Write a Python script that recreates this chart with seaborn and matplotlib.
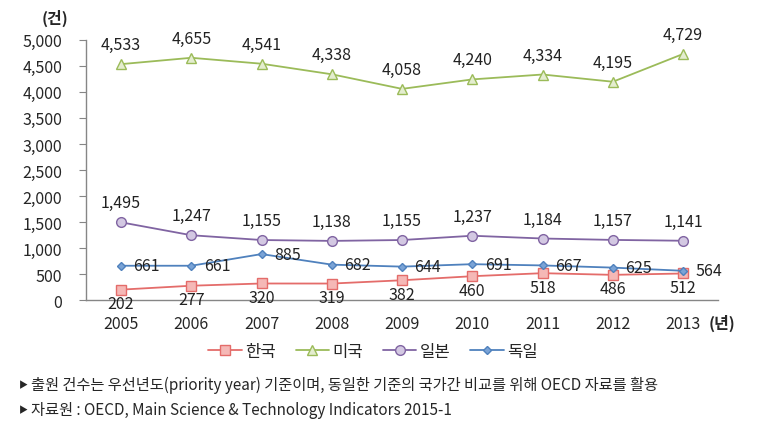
import numpy as np
import pandas as pd
import matplotlib.pyplot as plt
import seaborn as sns

years = ['2005', '2006', '2007', '2008', '2009', '2010', '2011', '2012', '2013']
korea = [202, 277, 320, 319, 382, 460, 518, 486, 512]
usa = [4533, 4655, 4541, 4338, 4058, 4240, 4334, 4195, 4729]
japan = [1495, 1247, 1155, 1138, 1155, 1237, 1184, 1157, 1141]
germany = [661, 661, 885, 682, 644, 691, 667, 625, 564]
series_names = ['한국', '미국', '일본', '독일']
notes = [
    '출원 건수는 우선년도(priority year) 기준이며, 동일한 기준의 국가간 비교를 위해 OECD 자료를 활용',
    '자료원 : OECD, Main Science & Technology Indicators 2015-1',
]

sns.set_style('white')
plt.rcParams['font.family'] = ['Noto Sans CJK KR', 'DejaVu Sans']

df = pd.DataFrame({'x': np.arange(len(years)), '한국': korea, '미국': usa,
                   '일본': japan, '독일': germany})

# line style per series: colour, marker, marker face, marker size, label placement
styles = {
    '한국': dict(color='#E46C6A', marker='s', mfc='#F5B8B6', ms=7, off=(0, -10)),
    '미국': dict(color='#9BBB59', marker='^', mfc='#E4EDCF', ms=6.5, off=(0, 14)),
    '일본': dict(color='#8064A2', marker='o', mfc='#D3C8E2', ms=7, off=(0, 14)),
    '독일': dict(color='#4F81BD', marker='D', mfc='#7AA3D6', ms=4.5, off=(9, 0)),
}

fig = plt.figure(figsize=(7.74, 4.39), dpi=100)
ax = fig.add_axes([0.111, 0.314, 0.817, 0.593])

for name in series_names:
    st = styles[name]
    sns.lineplot(data=df, x='x', y=name, ax=ax, color=st['color'], marker=st['marker'],
                 markersize=st['ms'], markerfacecolor=st['mfc'], markeredgecolor=st['color'],
                 markeredgewidth=1.0, linewidth=1.3, label=name, legend=False)
    dx, dy = st['off']
    ha = 'left' if dx > 0 else 'center'
    for xi, v in zip(df['x'], df[name]):
        ax.annotate(f'{v:,}', (xi, v), xytext=(dx, dy), textcoords='offset points',
                    ha=ha, va='center', fontsize=11.5, color='#222222')

ax.set_xlim(-0.5, len(years) - 0.5)
ax.set_ylim(0, 5000)
ax.set_yticks(np.arange(0, 5001, 500))
ax.set_yticklabels([f'{int(v):,}' for v in np.arange(0, 5001, 500)], fontsize=11.5)
ax.set_xticks(np.arange(len(years)))
ax.set_xticklabels(years, fontsize=11.5)
ax.set_xticks(np.arange(-0.5, len(years)), minor=True)
ax.tick_params(axis='x', which='major', length=0, pad=11)
ax.tick_params(axis='x', which='minor', length=5, color='#868686', direction='out')
ax.tick_params(axis='y', length=5, color='#868686', direction='out', left=True, pad=12)
ax.set_xlabel('')
ax.set_ylabel('')
for s in ['top', 'right']:
    ax.spines[s].set_visible(False)
for s in ['left', 'bottom']:
    ax.spines[s].set_color('#868686')
    ax.spines[s].set_linewidth(1.0)

fig.text(0.071, 0.958, '(건)', fontsize=11.5, fontweight='bold', ha='center', va='center')
fig.text(0.933, 0.264, '(년)', fontsize=11.5, fontweight='bold', ha='center', va='center')

handles, labels = ax.get_legend_handles_labels()
fig.legend(handles, labels, loc='center', bbox_to_anchor=(0.482, 0.198), ncol=4,
           frameon=False, fontsize=12, handlelength=2.0, handletextpad=0.2, columnspacing=1.2)

for yy, note in zip([0.121, 0.064], notes):
    fig.text(0.024, yy, '▶', fontsize=6.5, ha='left', va='center')
    fig.text(0.040, yy, note, fontsize=11, ha='left', va='center')

fig.savefig('out.png', dpi=100)
